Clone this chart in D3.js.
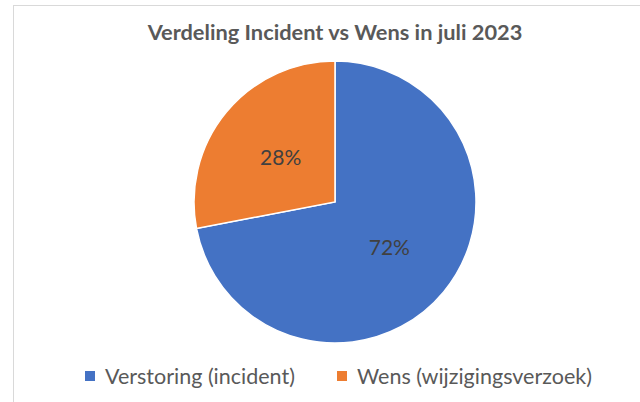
<!DOCTYPE html>
<html>
<head>
<meta charset="utf-8">
<script src="https://cdn.jsdelivr.net/npm/d3@7"></script>
<style>
    body { margin: 0; background: #fff; }
    svg text { font-family: Lato, "Open Sans", sans-serif; }
</style>
</head>
<body>
<div id="chart"></div>
<script>
// chart data
const categories = ['Verstoring (incident)', 'Wens (wijzigingsverzoek)'];
const values = [72, 28];
const colors = ['#4472c4', '#ed7d31'];
const title = 'Verdeling Incident vs Wens in juli 2023';

const width = 640, height = 402;
const cx = 335, cy = 202, radius = 141;

const svg = d3.select('#chart')
    .append('svg')
    .attr('width', width)
    .attr('height', height);

// chart area border (runs off the right/bottom edge)
svg.append('rect')
    .attr('x', 13.5)
    .attr('y', 5.5)
    .attr('width', 700)
    .attr('height', 500)
    .attr('fill', 'none')
    .attr('stroke', '#d9d9d9');

svg.append('text')
    .attr('x', cx)
    .attr('y', 40)
    .attr('text-anchor', 'middle')
    .attr('fill', '#595959')
    .style('font-size', '21.8px')
    .style('font-weight', 'bold')
    .text(title);

const data = categories.map((c, i) => ({ name: c, value: values[i], color: colors[i] }));

const pie = d3.pie()
    .value(d => d.value)
    .sort(null);

const arc = d3.arc()
    .innerRadius(0)
    .outerRadius(radius);

const g = svg.append('g')
    .attr('transform', `translate(${cx},${cy})`);

const arcs = pie(data);

g.selectAll('path')
    .data(arcs)
    .join('path')
    .attr('d', arc)
    .attr('fill', d => d.data.color)
    .attr('stroke', '#fff')
    .attr('stroke-width', 1.5);

g.selectAll('.lbl')
    .data(arcs)
    .join('text')
    .attr('class', 'lbl')
    .attr('transform', d => `translate(${arc.centroid(d)})`)
    .attr('text-anchor', 'middle')
    .attr('dy', '0.36em')
    .attr('fill', '#404040')
    .style('font-size', '21px')
    .text(d => d.data.value + '%');

// legend
const legendX = [85, 337];
const legend = svg.selectAll('.legend')
    .data(data)
    .join('g')
    .attr('class', 'legend')
    .attr('transform', (d, i) => `translate(${legendX[i]},376)`);

legend.append('rect')
    .attr('x', 0)
    .attr('y', -5)
    .attr('width', 10)
    .attr('height', 10)
    .attr('fill', d => d.color);

legend.append('text')
    .attr('x', 20)
    .attr('dy', '0.36em')
    .attr('fill', '#595959')
    .style('font-size', '21.5px')
    .text(d => d.name);
</script>
</body>
</html>
